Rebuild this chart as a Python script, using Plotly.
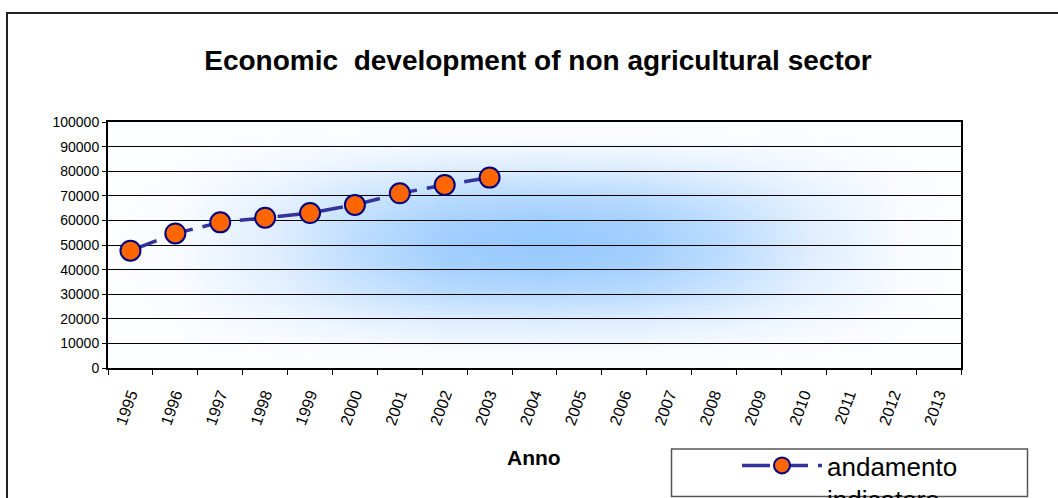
import base64
import plotly.graph_objects as go

# ---------------- data ----------------
categories = [str(y) for y in range(1995, 2014)]
years_with_data = ["1995", "1996", "1997", "1998", "1999", "2000", "2001", "2002", "2003"]
values = [47700, 54700, 59200, 61100, 63000, 66300, 71000, 74400, 77400]
y_ticks = list(range(0, 100001, 10000))
series_name = "andamento<br>indicatore"
title_text = "Economic  development of non agricultural sector"
x_title = "Anno"

# ---------------- layout geometry ----------------
W, H = 1058, 498
L, R, T, B = 108, 961, 122, 368  # plot area in pixels


def px_x(p):
    return (p - L) / (R - L)


def px_y(p):
    return (B - p) / (B - T)


FONT = "Arial, Liberation Sans, sans-serif"

# Excel-like "from centre" gradient fill for the plot area (decoration only)
h_profile = [(0, 0), (0.08, 0.03), (0.2, 0.3), (0.3, 0.65), (0.4, 0.92), (0.51, 1),
             (0.62, 0.92), (0.72, 0.65), (0.82, 0.3), (0.93, 0.04), (1, 0)]
v_profile = [(0, 0), (0.08, 0.05), (0.2, 0.35), (0.32, 0.75), (0.42, 0.95), (0.5, 1),
             (0.58, 0.95), (0.68, 0.75), (0.8, 0.35), (0.92, 0.05), (1, 0)]


def stops(profile):
    return "".join(
        f"<stop offset='{o}' stop-color='white' stop-opacity='{a}'/>" for o, a in profile
    )


svg = (
    "<svg xmlns='http://www.w3.org/2000/svg' width='853' height='246' "
    "viewBox='0 0 853 246' preserveAspectRatio='none'><defs>"
    f"<linearGradient id='h' x1='0' y1='0' x2='1' y2='0'>{stops(h_profile)}</linearGradient>"
    f"<linearGradient id='v' x1='0' y1='0' x2='0' y2='1'>{stops(v_profile)}</linearGradient>"
    "<mask id='mv' maskUnits='userSpaceOnUse' x='0' y='0' width='853' height='246'>"
    "<rect width='853' height='246' fill='url(#v)'/></mask>"
    "<mask id='mh' maskUnits='userSpaceOnUse' x='0' y='0' width='853' height='246'>"
    "<rect width='853' height='246' fill='url(#h)' mask='url(#mv)'/></mask>"
    "</defs>"
    "<rect width='853' height='246' fill='#FCFDFF'/>"
    "<rect width='853' height='246' fill='#96C9FF' mask='url(#mh)'/></svg>"
)
svg_uri = "data:image/svg+xml;base64," + base64.b64encode(svg.encode()).decode()

fig = go.Figure()
fig.add_trace(
    go.Scatter(
        x=years_with_data,
        y=values,
        mode="lines+markers",
        name=series_name,
        line=dict(color="#333399", width=3.5, dash="28px,10px"),
        marker=dict(size=20, color="#FF6600", line=dict(color="#000080", width=2)),
        showlegend=True,
    )
)

fig.update_layout(
    width=W,
    height=H,
    autosize=False,
    margin=dict(l=L, r=W - R, t=T, b=H - B, pad=0, autoexpand=False),
    paper_bgcolor="white",
    plot_bgcolor="rgba(0,0,0,0)",
    font=dict(family=FONT, color="black"),
    title=dict(
        text=title_text,
        font=dict(family=FONT, size=28, color="black", weight="bold"),
        xref="container",
        x=538 / W,
        xanchor="center",
        yref="container",
        y=1 - 60 / H,
        yanchor="middle",
        automargin=False,
    ),
    showlegend=True,
    legend=dict(
        xref="container",
        yref="container",
        x=671 / W,
        y=1 - 442 / H,
        xanchor="left",
        yanchor="top",
        bgcolor="rgba(0,0,0,0)",
        borderwidth=0,
        font=dict(family=FONT, size=26, color="black"),
        indentation=66,
        itemwidth=80,
        valign="top",
    ),
    images=[
        dict(
            source=svg_uri,
            xref="paper",
            yref="paper",
            x=0,
            y=1,
            sizex=1,
            sizey=1,
            sizing="stretch",
            layer="below",
        )
    ],
)

fig.update_xaxes(
    type="category",
    categoryorder="array",
    categoryarray=categories,
    range=[-0.5, len(categories) - 0.5],
    showline=True,
    linecolor="black",
    linewidth=2,
    mirror=True,
    showgrid=False,
    ticks="outside",
    tickson="boundaries",
    ticklen=5,
    tickwidth=1,
    tickcolor="black",
    tickangle=-70,
    tickfont=dict(family=FONT, size=16, color="black"),
    ticklabelstandoff=9,
    automargin=False,
)

fig.update_yaxes(
    range=[0, 100000],
    tickvals=y_ticks,
    ticktext=[str(v) for v in y_ticks],
    showline=True,
    linecolor="black",
    linewidth=2,
    mirror=True,
    showgrid=True,
    gridcolor="black",
    gridwidth=1,
    zeroline=False,
    ticks="outside",
    ticklen=4,
    tickwidth=1,
    tickcolor="black",
    tickfont=dict(family=FONT, size=14, color="black"),
    ticklabelstandoff=0,
    automargin=False,
)

# axis title as annotation
fig.add_annotation(
    text="<b>" + x_title + "</b>",
    xref="paper",
    yref="paper",
    x=px_x(534),
    y=px_y(458),
    xanchor="center",
    yanchor="middle",
    showarrow=False,
    font=dict(family=FONT, size=21, color="black"),
)

# outer chart-area border
fig.add_shape(
    type="rect",
    xref="paper",
    yref="paper",
    x0=px_x(7),
    x1=px_x(1062),
    y0=px_y(502),
    y1=px_y(13),
    line=dict(color="#222222", width=2),
    fillcolor="rgba(0,0,0,0)",
    layer="above",
)
# legend box
fig.add_shape(
    type="rect",
    xref="paper",
    yref="paper",
    x0=px_x(671.5),
    x1=px_x(1027.5),
    y0=px_y(496.5),
    y1=px_y(449),
    line=dict(color="#555555", width=1.5),
    fillcolor="white",
    layer="below",
)

fig.write_html(
    "out.html",
    config={"displayModeBar": False},
    post_script="document.body.style.margin='0';document.body.style.overflow='hidden';",
)
